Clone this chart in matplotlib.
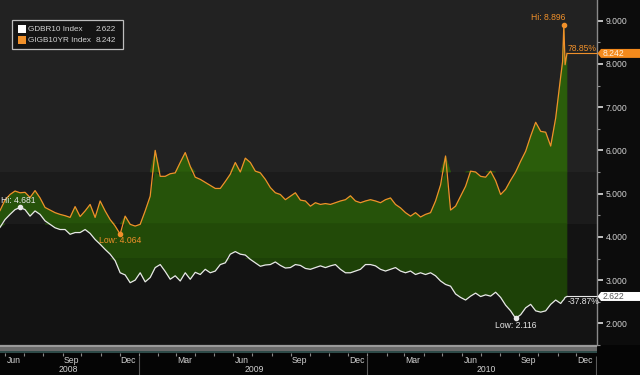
import matplotlib
matplotlib.use("Agg")
import matplotlib.pyplot as plt
import matplotlib.transforms as mtransforms
from matplotlib.patches import Rectangle, Polygon
import numpy as np
import pandas as pd

# ---------------- data ----------------
base_dates = list(pd.date_range("2008-05-24", "2010-11-06", freq="8D"))
extra_dates = list(pd.to_datetime(["2010-11-09", "2010-11-11", "2010-11-13", "2010-11-16"]))
dates = base_dates + extra_dates

ireland = [4.6083, 4.85, 4.98, 5.06, 5.02, 5.03, 4.91, 5.07, 4.90, 4.68,
           4.62, 4.56, 4.52, 4.49, 4.45, 4.70, 4.47, 4.60, 4.75, 4.45,
           4.83, 4.60, 4.40, 4.25, 4.064, 4.48, 4.29, 4.25, 4.29, 4.60,
           4.94, 6.00, 5.40, 5.40, 5.46, 5.48, 5.72, 5.95, 5.63, 5.38,
           5.33, 5.26, 5.19, 5.12, 5.12, 5.28, 5.45, 5.72, 5.50, 5.82,
           5.72, 5.52, 5.48, 5.33, 5.14, 5.02, 4.98, 4.86, 4.94, 5.02,
           4.85, 4.83, 4.71, 4.79, 4.75, 4.77, 4.75, 4.79, 4.83, 4.86,
           4.95, 4.83, 4.79, 4.83, 4.86, 4.83, 4.79, 4.86, 4.90, 4.75,
           4.67, 4.56, 4.48, 4.56, 4.46, 4.52, 4.56, 4.83, 5.20, 5.87,
           4.62, 4.71, 4.94, 5.17, 5.52, 5.50, 5.40, 5.38, 5.52, 5.30,
           4.98, 5.10, 5.31, 5.50, 5.75, 5.98, 6.33, 6.65, 6.44, 6.42,
           6.10, 6.75, 7.71,
           8.05, 8.896, 7.98, 8.242]

germany = [4.2202, 4.40, 4.52, 4.63, 4.681, 4.63, 4.48, 4.60, 4.52, 4.37,
           4.29, 4.21, 4.17, 4.17, 4.06, 4.10, 4.10, 4.17, 4.08, 3.94,
           3.83, 3.71, 3.60, 3.45, 3.17, 3.12, 2.94, 3.00, 3.17, 2.96,
           3.06, 3.29, 3.36, 3.20, 3.02, 3.10, 2.98, 3.17, 3.02, 3.18,
           3.13, 3.25, 3.17, 3.21, 3.36, 3.40, 3.60, 3.66, 3.60, 3.58,
           3.48, 3.40, 3.32, 3.35, 3.36, 3.42, 3.34, 3.28, 3.29, 3.36,
           3.34, 3.27, 3.25, 3.29, 3.33, 3.29, 3.33, 3.36, 3.25, 3.17,
           3.17, 3.21, 3.25, 3.36, 3.36, 3.33, 3.25, 3.21, 3.25, 3.29,
           3.21, 3.17, 3.21, 3.13, 3.17, 3.13, 3.17, 3.10, 2.98, 2.90,
           2.86, 2.68, 2.60, 2.54, 2.63, 2.70, 2.62, 2.66, 2.63, 2.72,
           2.60, 2.42, 2.29, 2.116, 2.20, 2.36, 2.44, 2.29, 2.26, 2.29,
           2.44, 2.54, 2.46,
           2.52, 2.55, 2.60, 2.622]

series_names = ["GDBR10 Index", "GIGB10YR Index"]
y_ticks = [2, 3, 4, 5, 6, 7, 8, 9]
month_labels = ["Jun", "Sep", "Dec", "Mar", "Jun", "Sep", "Dec", "Mar", "Jun", "Sep", "Dec"]
month_label_dates = pd.to_datetime(["2008-06-15", "2008-09-15", "2008-12-15", "2009-03-15",
                                    "2009-06-15", "2009-09-15", "2009-12-15", "2010-03-15",
                                    "2010-06-15", "2010-09-15", "2010-12-15"])
year_labels = ["2008", "2009", "2010"]
year_label_dates = pd.to_datetime(["2008-09-10", "2009-07-05", "2010-07-10"])
year_bounds = pd.to_datetime(["2009-01-01", "2010-01-01", "2011-01-01"])

dates = pd.DatetimeIndex(dates)
ire = np.array(ireland)
ger = np.array(germany)

# ---------------- figure ----------------
W, H = 640, 375
fig = plt.figure(figsize=(6.4, 3.75), dpi=100, facecolor="#0c0c0c")
ax = fig.add_axes([0, 30 / H, 597 / W, 345 / H])
axb = fig.add_axes([0, 0, 597 / W, 30 / H], sharex=ax)

FONT = ["Liberation Sans", "DejaVu Sans"]
FS = 6.2
FS_LEG = 5.9
ORANGE = "#f0902a"
WHITE = "#e8e8e8"
TXT = "#d2d2d2"

xmin, xmax = pd.Timestamp("2008-05-24"), pd.Timestamp("2011-01-03")
ymin, ymax = 1.519, 9.477
ax.set_xlim(xmin, xmax)
ax.set_ylim(ymin, ymax)
ax.set_facecolor("#222222")

# background bands
ax.axhspan(ymin, 5.5, color="#1b1b1b", zorder=0, lw=0)
ax.axhspan(ymin, 4.3, color="#131313", zorder=0, lw=0)

# fill between the two series with banded greens
fill_bands = [(5.5, ymax, "#2b5d0b"), (4.3, 5.5, "#26530a"), (3.5, 4.3, "#224a08"), (ymin, 3.5, "#1d4107")]
for lo, hi, col in fill_bands:
    upper = np.clip(ire, lo, hi)
    lower = np.clip(ger, lo, hi)
    ax.fill_between(dates, lower, upper, where=upper > lower, facecolor=col, edgecolor=col,
                    lw=0.5, zorder=1, interpolate=True)

ax.plot(dates, ire, color=ORANGE, lw=0.9, zorder=3)
ax.plot(dates, ger, color=WHITE, lw=0.9, zorder=3)

# hi / low markers
i_hi_ire = int(np.argmax(ire)); i_lo_ire = int(np.argmin(ire))
i_hi_ger = int(np.argmax(ger)); i_lo_ger = int(np.argmin(ger))
for i, vals, col in [(i_hi_ire, ire, ORANGE), (i_lo_ire, ire, ORANGE), (i_hi_ger, ger, WHITE), (i_lo_ger, ger, WHITE)]:
    ax.plot(dates[i], vals[i], "o", ms=3, color=col, zorder=4)

ax.annotate(f"Hi: {ire[i_hi_ire]:.3f}", (dates[i_hi_ire], ire[i_hi_ire]), xytext=(1, 2.5),
            textcoords="offset points", ha="right", va="bottom", color=ORANGE, fontsize=FS, family=FONT, zorder=5)
ax.annotate(f"Low: {ire[i_lo_ire]:.3f}", (dates[i_lo_ire], ire[i_lo_ire]), xytext=(0, -1.5),
            textcoords="offset points", ha="center", va="top", color=ORANGE, fontsize=FS, family=FONT, zorder=5)
ax.annotate(f"Hi: {ger[i_hi_ger]:.3f}", (dates[i_hi_ger], ger[i_hi_ger]), xytext=(-1, 1.5),
            textcoords="offset points", ha="center", va="bottom", color=WHITE, fontsize=FS, family=FONT, zorder=5)
ax.annotate(f"Low: {ger[i_lo_ger]:.3f}", (dates[i_lo_ger], ger[i_lo_ger]), xytext=(0, -2),
            textcoords="offset points", ha="center", va="top", color=WHITE, fontsize=FS, family=FONT, zorder=5)

# last-value lines and percent changes
last_x = dates[-1]
for vals, col, above in [(ire, ORANGE, True), (ger, WHITE, False)]:
    ax.plot([last_x, xmax], [vals[-1], vals[-1]], color=col, lw=0.8, zorder=3)
    pct = (vals[-1] / vals[0] - 1) * 100
    ax.annotate(f"{pct:.2f}%", (last_x, vals[-1]), xytext=(0.5, 0.5 if above else -0.5),
                textcoords="offset points", ha="left", va="bottom" if above else "top",
                color=col, fontsize=FS, family=FONT, zorder=5)

# right axis
ax.yaxis.tick_right()
ax.set_yticks(y_ticks)
ax.set_yticklabels([f"{v:.3f}" for v in y_ticks], color=TXT, fontsize=FS, family=FONT)
ax.set_yticks([v + 0.5 for v in range(1, 9)], minor=True)
ax.tick_params(axis="y", which="major", direction="out", length=4, width=1.2, color="#e0e0e0", pad=2.5)
ax.tick_params(axis="y", which="minor", direction="out", length=2, width=0.8, color="#909090")
for s in ["top", "left", "bottom"]:
    ax.spines[s].set_visible(False)
ax.spines["right"].set_color("#8a8a8a")
ax.spines["right"].set_linewidth(1.0)
ax.tick_params(axis="x", which="both", bottom=False, labelbottom=False)

# value tags on right
tagT = mtransforms.blended_transform_factory(fig.transFigure, ax.transData)
hh = 4.5 / 43.35
for val, bg, fg in [(ire[-1], "#f48a1c", "#fff0dc"), (ger[-1], "#ffffff", "#555555")]:
    poly = Polygon([(597.5 / W, val), (601 / W, val + hh), (1.0, val + hh), (1.0, val - hh), (601 / W, val - hh)],
                   closed=True, transform=tagT, facecolor=bg, edgecolor="none", clip_on=False, zorder=10)
    fig.add_artist(poly)
    fig.text(603 / W, val, f"{val:.3f}", transform=tagT, color=fg, fontsize=FS, family=FONT,
             va="center", ha="left", zorder=11)

# legend box
lx0, ly0, lx1, ly1 = 12, 19.5, 122.5, 49
fig.add_artist(Rectangle((lx0 / W, 1 - ly1 / H), (lx1 - lx0) / W, (ly1 - ly0) / H, transform=fig.transFigure,
                         facecolor="#141414", edgecolor="#bdbdbd", lw=0.9, zorder=12))
for k, (name, col, val) in enumerate([(series_names[0], "#ffffff", ger[-1]), (series_names[1], ORANGE, ire[-1])]):
    yc = 29.3 + k * 10.7
    fig.add_artist(Rectangle((17.5 / W, 1 - (yc + 4) / H), 8 / W, 8 / H, transform=fig.transFigure,
                             facecolor=col, edgecolor="none", zorder=13))
    fig.text(27.5 / W, 1 - yc / H, name, color=TXT, fontsize=FS_LEG, family=FONT, va="center", ha="left", zorder=13)
    fig.text(116 / W, 1 - yc / H, f"{val:.3f}", color=TXT, fontsize=FS_LEG, family=FONT, va="center",
             ha="right", zorder=13)

# bottom date strip
axb.set_facecolor("#050505")
axb.set_ylim(0, 30)
for s in axb.spines.values():
    s.set_visible(False)
axb.set_yticks([])
axb.tick_params(axis="x", which="both", bottom=False, labelbottom=False)
axb.axhspan(24, 28.5, color="#6a6a6a", lw=0)
axb.axhspan(28.5, 30, color="#9a9a9a", lw=0)
axb.axhspan(22.5, 24, color="#2e4a48", lw=0)
month_starts = pd.date_range("2008-06-01", "2010-12-01", freq="MS")
axb.vlines(month_starts, 19.5, 22.5, color="#8a8a8a", lw=0.8)
axb.vlines(year_bounds, 0, 19.5, color="#5a5a5a", lw=0.8)
for d, lab in zip(month_label_dates, month_labels):
    axb.text(d, 14.5, lab, color=TXT, fontsize=FS, family=FONT, ha="center", va="center")
for d, lab in zip(year_label_dates, year_labels):
    axb.text(d, 5.5, lab, color=TXT, fontsize=FS, family=FONT, ha="center", va="center")
axb.set_xlim(xmin, xmax)
fig.add_artist(Rectangle((597 / W, 0), 43 / W, 30 / H, transform=fig.transFigure, facecolor="#050505",
                         edgecolor="none", zorder=0))

fig.savefig("out.png", dpi=100, facecolor=fig.get_facecolor())
